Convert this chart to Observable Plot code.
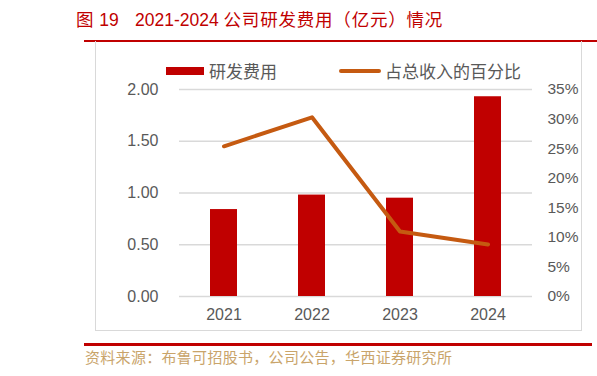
<!DOCTYPE html>
<html>
<head>
<meta charset="utf-8">
<script src="https://cdn.jsdelivr.net/npm/d3@7"></script>
<script src="https://cdn.jsdelivr.net/npm/@observablehq/plot@0.6"></script>
<style>
  html, body { margin: 0; padding: 0; background: #fff; }
  #wrap { position: relative; width: 597px; height: 376px; overflow: hidden; font-family: "Noto Sans CJK SC", "Liberation Sans", sans-serif; }
  .title { position: absolute; top: 8px; font-size: 17.5px; color: #c00000; white-space: pre; line-height: 22px; font-family: "Liberation Sans", "Noto Sans CJK SC", sans-serif; }
  .title .cjk { font-family: "Noto Sans CJK SC", sans-serif; letter-spacing: 0.8px; }
  #topline { position: absolute; left: 84px; top: 40px; width: 513px; height: 2px; background: #c00000; }
  #frame { position: absolute; left: 95px; top: 41px; width: 485px; height: 289px; border: 1.5px solid #d9d9d9; border-top: none; }
  #chart { position: absolute; left: 95px; top: 41px; }
  #legend { position: absolute; top: 60px; left: 0; width: 597px; height: 24px; font-size: 17px; color: #595959; }
  #legend .sw1 { position: absolute; left: 166px; top: 7px; width: 38px; height: 8px; background: #c00000; }
  #legend .t1 { position: absolute; left: 209px; top: -1px; line-height: 24px; }
  #legend .sw2 { position: absolute; left: 339px; top: 9px; width: 42px; height: 4px; border-radius: 2px; background: #c55a11; }
  #legend .t2 { position: absolute; left: 385px; top: -1px; line-height: 24px; }
  #botline { position: absolute; left: 84px; top: 343px; width: 508px; height: 2.5px; background: #c00000; }
  #source { position: absolute; left: 85px; top: 346px; font-size: 15px; color: #c9a46a; line-height: 22px; letter-spacing: 0.3px; }
</style>
</head>
<body>
<div id="wrap">
  <div class="title" style="left:76px"><span class="cjk">图</span> 19</div>
  <div class="title" style="left:135px">2021-2024 <span class="cjk">公司研发费用（亿元）情况</span></div>
  <div id="topline"></div>
  <div id="frame"></div>
  <div id="chart"></div>
  <div id="legend">
    <div class="sw1"></div><div class="t1">研发费用</div>
    <div class="sw2"></div><div class="t2">占总收入的百分比</div>
  </div>
  <div id="botline"></div>
  <div id="source">资料来源：布鲁可招股书，公司公告，华西证券研究所</div>
</div>
<script>
const years = ["2021", "2022", "2023", "2024"];
const rdExpense = [0.84, 0.98, 0.95, 1.93];      // 亿元
const pctOfRevenue = [25.4, 30.3, 11.0, 8.8];    // %
const leftTicks = [0, 0.5, 1.0, 1.5, 2.0];
const rightTicks = [0, 5, 10, 15, 20, 25, 30, 35];
const leftMax = 2.0;
const rightMax = 35;

const toLeft = p => p / rightMax * leftMax;
const bars = years.map((y, i) => ({year: y, value: rdExpense[i]}));
const line = years.map((y, i) => ({year: y, value: toLeft(pctOfRevenue[i])}));

const chart = Plot.plot({
  width: 487,
  height: 291,
  marginLeft: 84,
  marginRight: 50,
  marginTop: 48,
  marginBottom: 36,
  style: {fontFamily: "'Liberation Sans', Arial, sans-serif", fontSize: "16px", color: "#595959", background: "transparent"},
  x: {domain: years, type: "band", paddingInner: 0.69, paddingOuter: 0.345},
  y: {domain: [0, leftMax]},
  marks: [
    Plot.gridY(leftTicks, {stroke: "#d9d9d9", strokeOpacity: 1, strokeWidth: 1.5}),
    Plot.barY(bars, {x: "year", y: "value", fill: "#c00000"}),
    Plot.line(line, {x: "year", y: "value", stroke: "#c55a11", strokeWidth: 4, strokeLinecap: "round", strokeLinejoin: "round"}),
    Plot.axisY({ticks: leftTicks, tickSize: 0, tickPadding: 21, tickFormat: d => d.toFixed(2), fill: "#595959", label: null}),
    Plot.axisY({anchor: "right", ticks: rightTicks.map(toLeft), tickSize: 0, tickPadding: 15, tickFormat: d => Math.round(d / leftMax * rightMax) + "%", fill: "#595959", fontSize: 15.5, label: null}),
    Plot.axisX({tickSize: 0, tickPadding: 12, fill: "#595959", label: null})
  ]
});
document.getElementById("chart").appendChild(chart);
</script>
</body>
</html>
